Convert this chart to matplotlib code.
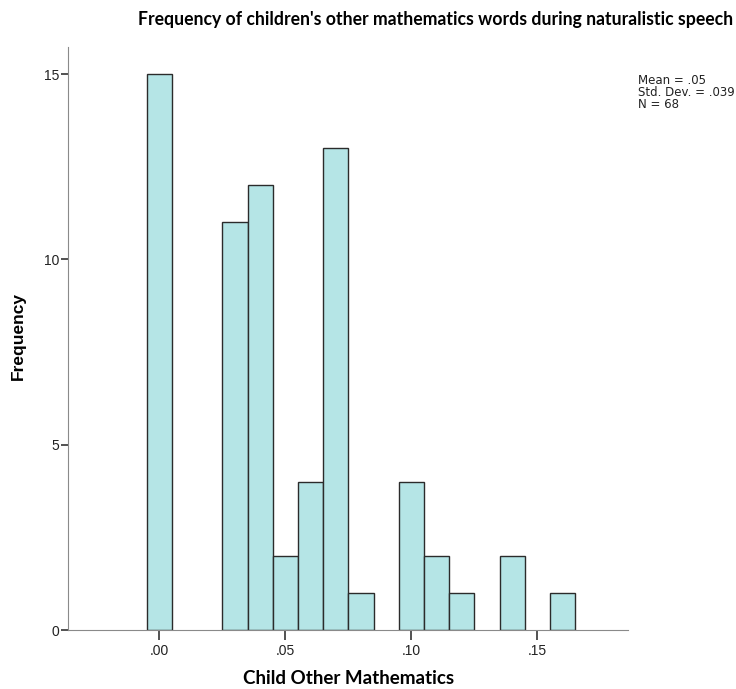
import matplotlib
matplotlib.use("Agg")
import matplotlib.pyplot as plt

# bin centres (proportion of words) and counts
bin_centers = [0.00, 0.03, 0.04, 0.05, 0.06, 0.07, 0.08, 0.10, 0.11, 0.12, 0.14, 0.16]
counts = [15, 11, 12, 2, 4, 13, 1, 4, 2, 1, 2, 1]
x_ticks = [0.00, 0.05, 0.10, 0.15]
x_tick_labels = [".00", ".05", ".10", ".15"]
y_ticks = [0, 5, 10, 15]
stats_lines = ["Mean = .05", "Std. Dev. = .039", "N = 68"]

fig = plt.figure(figsize=(7.36, 6.89), dpi=100)
ax = fig.add_axes([68 / 736, 1 - 630 / 689, (628 - 68) / 736, (630 - 46.7) / 689])

ax.bar(bin_centers, counts, width=0.01, color="#b5e5e6", edgecolor="#2b2b2b",
       linewidth=1.0, zorder=2)

ax.set_xlim(-0.0363, 0.186)
ax.set_ylim(0, 15.74)

ax.spines["top"].set_visible(False)
ax.spines["right"].set_visible(False)
ax.spines["left"].set_color("#8a8a8a")
ax.spines["bottom"].set_color("#8a8a8a")

ax.set_xticks(x_ticks)
ax.set_xticklabels(x_tick_labels)
ax.set_yticks(y_ticks)
ax.tick_params(axis="x", direction="out", length=7, width=1.2, color="#333333",
               pad=3, labelsize=10)
ax.tick_params(axis="y", direction="out", length=5, width=1.2, color="#333333",
               pad=1, labelsize=10)
for lab in ax.get_xticklabels() + ax.get_yticklabels():
    lab.set_family("Liberation Sans")
    lab.set_color("#222222")

fig.text(436 / 736, 1 - 20 / 689, "Frequency of children's other mathematics words during naturalistic speech",
         ha="center", va="center", fontsize=12.7, fontweight="bold", family="Lato")
fig.text(349 / 736, 1 - 678 / 689, "Child Other Mathematics",
         ha="center", va="center", fontsize=13.5, fontweight="bold", family="Lato")
fig.text(18 / 736, 1 - 336 / 689, "Frequency", rotation=90,
         ha="center", va="center", fontsize=12.5, fontweight="bold", family="Liberation Sans")

for i, line in enumerate(stats_lines):
    fig.text(638 / 736, 1 - (80 + 12 * i) / 689, line, ha="left", va="center",
             fontsize=8.5, family="DejaVu Sans", color="#222222")

fig.savefig("out.png", dpi=100)
